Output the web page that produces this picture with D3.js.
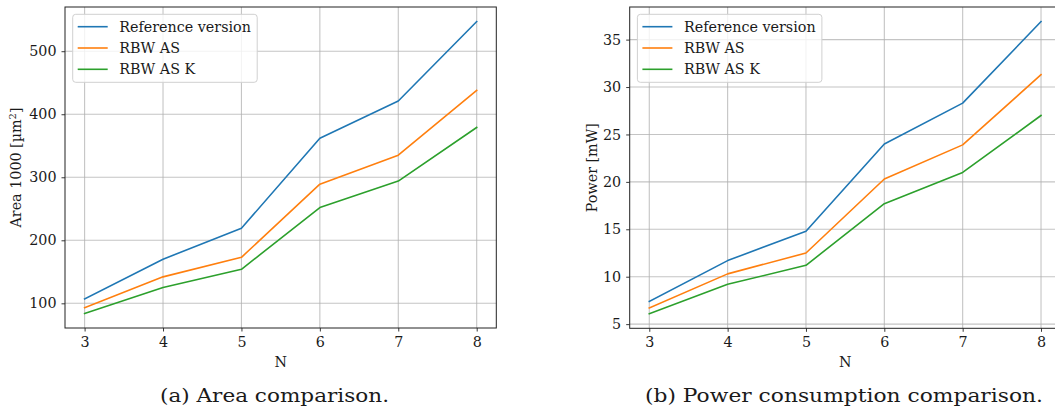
<!DOCTYPE html>
<html>
<head>
<meta charset="utf-8">
<script src="https://cdn.jsdelivr.net/npm/d3@7"></script>
<style>
  html, body { margin: 0; padding: 0; background: #fff; }
  svg { display: block; }
  text { font-family: "DejaVu Serif", serif; fill: #1a1a1a; }
  .caption { font-family: "DejaVu Serif", serif; }
</style>
</head>
<body>
<svg id="chart" width="1055" height="416"></svg>
<script>
// Design size N
const nValues = [3, 4, 5, 6, 7, 8];
const seriesNames = ["Reference version", "RBW AS", "RBW AS K"];
const seriesColors = ["#1f77b4", "#ff7f0e", "#2ca02c"];

// Area in thousands of µm²
const areaReference = [107, 170, 219, 362, 421, 547];
const areaRbwAs     = [93, 142, 173, 289, 335, 438];
const areaRbwAsK    = [84, 125, 154, 252, 294, 379];

// Power consumption in mW
const powerReference = [7.4, 11.7, 14.8, 24.0, 28.3, 36.9];
const powerRbwAs     = [6.7, 10.3, 12.5, 20.3, 23.9, 31.3];
const powerRbwAsK    = [6.1, 9.2, 11.2, 17.7, 21.0, 27.0];

const areaTicks = [100, 200, 300, 400, 500];
const powerTicks = [5, 10, 15, 20, 25, 30, 35];

const FS = 14.3;
const svg = d3.select("#chart");

function drawPanel(opts) {
  const { left, right, top, bottom, series, yTicks, yLabel, yLabelX,
          caption, captionX, captionY, captionWidth } = opts;
  const g = svg.append("g");

  // 5% margins around the data range
  const xExt = d3.extent(nValues);
  const xPad = (xExt[1] - xExt[0]) * 0.05;
  const x = d3.scaleLinear().domain([xExt[0] - xPad, xExt[1] + xPad]).range([left, right]);
  const allY = series.flat();
  const yExt = d3.extent(allY);
  const yPad = (yExt[1] - yExt[0]) * 0.05;
  const y = d3.scaleLinear().domain([yExt[0] - yPad, yExt[1] + yPad]).range([bottom, top]);

  // grid
  g.append("g").selectAll("line").data(nValues).join("line")
    .attr("x1", d => x(d)).attr("x2", d => x(d))
    .attr("y1", top).attr("y2", bottom)
    .attr("stroke", "#b0b0b0").attr("stroke-opacity", 0.75).attr("stroke-width", 1.1);
  g.append("g").selectAll("line").data(yTicks).join("line")
    .attr("x1", left).attr("x2", right)
    .attr("y1", d => y(d)).attr("y2", d => y(d))
    .attr("stroke", "#b0b0b0").attr("stroke-opacity", 0.75).attr("stroke-width", 1.1);

  // axes
  const xAxis = d3.axisBottom(x).tickValues(nValues).tickFormat(d3.format("d"))
    .tickSizeInner(3.5).tickSizeOuter(0).tickPadding(5);
  const yAxis = d3.axisLeft(y).tickValues(yTicks).tickFormat(d3.format("d"))
    .tickSizeInner(3.5).tickSizeOuter(0).tickPadding(5);
  const gx = g.append("g").attr("transform", `translate(0,${bottom})`).call(xAxis);
  const gy = g.append("g").attr("transform", `translate(${left},0)`).call(yAxis);
  [gx, gy].forEach(a => {
    a.select(".domain").remove();
    a.selectAll(".tick line").attr("stroke", "#222").attr("stroke-width", 0.9);
    a.selectAll(".tick text").attr("font-family", "DejaVu Serif").attr("font-size", FS).attr("fill", "#1a1a1a");
  });

  // lines
  const line = d3.line().x((d, i) => x(nValues[i])).y(d => y(d));
  series.forEach((s, k) => {
    g.append("path").datum(s).attr("d", line)
      .attr("fill", "none").attr("stroke", seriesColors[k]).attr("stroke-width", 1.6)
      .attr("stroke-linejoin", "round").attr("stroke-linecap", "square");
  });

  // frame
  g.append("rect").attr("x", left).attr("y", top)
    .attr("width", right - left).attr("height", bottom - top)
    .attr("fill", "none").attr("stroke", "#222").attr("stroke-width", 1);

  // legend
  const lx = left + 7.7, ly = top + 7.3;
  const leg = g.append("g").attr("transform", `translate(${lx},${ly})`);
  leg.append("rect").attr("width", 184.5).attr("height", 68).attr("rx", 3)
    .attr("fill", "#fff").attr("fill-opacity", 0.8).attr("stroke", "#d0d0d0").attr("stroke-width", 1);
  seriesNames.forEach((name, k) => {
    const cy = 12.4 + k * 21.3;
    leg.append("line").attr("x1", 5).attr("x2", 35).attr("y1", cy).attr("y2", cy)
      .attr("stroke", seriesColors[k]).attr("stroke-width", 1.6);
    leg.append("text").attr("x", 46.6).attr("y", cy).attr("dy", "0.35em")
      .attr("font-size", FS).text(name);
  });

  // axis labels
  g.append("text").attr("x", (left + right) / 2).attr("y", 362).attr("dy", "0.35em")
    .attr("text-anchor", "middle").attr("font-size", FS).text("N");
  g.append("text").attr("transform", `translate(${yLabelX},${(top + bottom) / 2}) rotate(-90)`)
    .attr("text-anchor", "middle").attr("dy", "0.35em").attr("font-size", FS).html(yLabel);

  // caption
  g.append("text").attr("class", "caption").attr("x", captionX).attr("y", captionY)
    .attr("dy", "0.35em").attr("text-anchor", "middle").attr("font-size", 18.5)
    .attr("textLength", captionWidth).attr("lengthAdjust", "spacingAndGlyphs")
    .text(caption);
}

drawPanel({
  left: 65, right: 496.3, top: 7, bottom: 328,
  series: [areaReference, areaRbwAs, areaRbwAsK],
  yTicks: areaTicks,
  yLabel: 'Area 1000 [µm<tspan dy="-5" font-size="10">2</tspan><tspan dy="5">]</tspan>',
  yLabelX: 16,
  caption: "(a) Area comparison.", captionX: 274.5, captionY: 396, captionWidth: 229
});

drawPanel({
  left: 629.7, right: 1060.6, top: 7, bottom: 328.3,
  series: [powerReference, powerRbwAs, powerRbwAsK],
  yTicks: powerTicks,
  yLabel: "Power [mW]",
  yLabelX: 592,
  caption: "(b) Power consumption comparison.", captionX: 844, captionY: 396, captionWidth: 398
});
</script>
</body>
</html>
